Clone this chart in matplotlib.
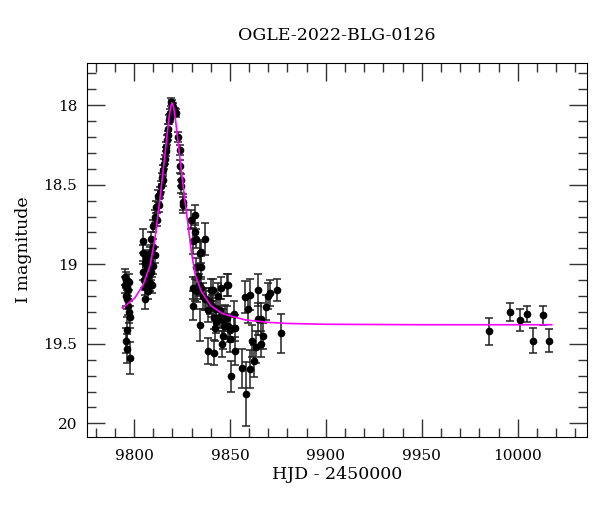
import numpy as np
import matplotlib
matplotlib.use("Agg")
import matplotlib.pyplot as plt

plt.rcParams['font.family'] = ['DejaVu Serif']

title = "OGLE-2022-BLG-0126"

# photometry: HJD - 2450000, I magnitude, error
hjd = [
    # first points of the season
    9795.2, 9795.7, 9796.2, 9796.7, 9795.7, 9796.2, 9796.7, 9797.2, 9797.8,
    9796.2, 9795.7, 9796.2, 9797.8, 9795.2, 9797.2,
    # early rise
    9804.7, 9804.7, 9805.6, 9804.7, 9806.5, 9805.6, 9807.3, 9805.6, 9808.2,
    9809.1, 9809.9, 9808.2, 9810.8, 9809.9, 9806.6, 9806.1, 9807.7, 9809.2,
    9805.1,
    # rise to peak
    9806.5, 9808.2, 9809.1, 9809.9, 9810.8, 9811.7, 9812.5, 9813.4, 9814.3,
    9815.1, 9815.1, 9815.9, 9816.9, 9817.2, 9817.7, 9818.2, 9818.6, 9819.5,
    9820.3, 9821.2, 9822.1, 9811.8, 9812.9, 9814.4, 9815.5, 9816.5, 9817.6,
    9818.6, 9819.6, 9820.6, 9819.6,
    # decline
    9822.9, 9823.8, 9823.8, 9824.7, 9824.7, 9825.5, 9825.6, 9829.9, 9831.6,
    9830.7, 9831.6, 9832.5, 9836.8, 9834.2, 9835.1, 9832.1, 9833.3, 9835.1,
    # tail
    9830.7, 9831.6, 9832.8, 9833.9, 9835.1, 9835.9, 9830.7, 9834.6, 9837.7,
    9838.5, 9839.4, 9840.3, 9840.8, 9841.5, 9842.0, 9843.8, 9842.9, 9844.6,
    9844.6, 9845.5, 9846.4, 9847.2, 9848.4, 9848.4, 9849.0, 9849.8, 9851.9,
    9852.4, 9852.4, 9838.5, 9841.5, 9846.4, 9850.7, 9856.5, 9858.5, 9857.7,
    9860.3, 9859.4, 9860.6, 9861.7, 9862.3, 9863.8, 9864.6, 9864.6, 9866.4,
    9867.2, 9866.4, 9869.0, 9869.8, 9870.7, 9874.7, 9876.4, 9836.8, 9842.5,
    9846.7, 9849.8, 9845.7, 9841.2, 9849.0,
    # next season
    9985.05, 9996.2, 10001.0, 10005.05, 10007.97, 10013.2, 10016.1,
]
mag = [
    19.08, 19.10, 19.14, 19.16, 19.20, 19.22, 19.26, 19.30, 19.33,
    19.41, 19.48, 19.53, 19.59, 19.13, 19.11,
    18.855, 18.93, 18.99, 19.05, 19.10, 19.14, 19.17, 19.22, 19.12,
    19.05, 19.01, 18.99, 18.94, 18.89, 19.03, 18.96, 19.07, 19.13,
    19.10,
    18.97, 18.93, 18.84, 18.76, 18.70, 18.64, 18.57, 18.55, 18.51,
    18.47, 18.41, 18.34, 18.26, 18.22, 18.15, 18.09, 18.05, 17.98,
    18.01, 18.04, 18.05, 18.72, 18.63, 18.46, 18.37, 18.29, 18.19,
    18.08, 17.99, 18.04, 18.02,
    18.20, 18.28, 18.385, 18.47, 18.51, 18.61, 18.63, 18.72, 18.69,
    18.855, 18.80, 18.84, 18.84, 18.93, 18.92, 19.02, 19.075, 19.02,
    19.15, 19.16, 19.17, 19.13, 19.15, 19.20, 19.26, 19.38, 19.22,
    19.29, 19.24, 19.16, 19.26, 19.335, 19.40, 19.20, 19.28, 19.29,
    19.33, 19.15, 19.35, 19.325, 19.13, 19.335, 19.39, 19.47, 19.31,
    19.40, 19.545, 19.545, 19.555, 19.45, 19.705, 19.655, 19.815, 19.205,
    19.19, 19.28, 19.66, 19.48, 19.61, 19.52, 19.16, 19.345, 19.345,
    19.45, 19.50, 19.27, 19.20, 19.18, 19.16, 19.435, 19.22, 19.365,
    19.39, 19.41, 19.50, 19.16, 19.13,
    19.42, 19.30, 19.35, 19.31, 19.48, 19.32, 19.48,
]
err = [
    0.05, 0.05, 0.05, 0.06, 0.06, 0.06, 0.06, 0.07, 0.07,
    0.08, 0.08, 0.09, 0.10, 0.05, 0.05,
    0.075, 0.05, 0.05, 0.05, 0.05, 0.05, 0.05, 0.06, 0.05,
    0.05, 0.05, 0.05, 0.05, 0.05, 0.05, 0.05, 0.05, 0.05,
    0.05,
    0.05, 0.04, 0.04, 0.04, 0.04, 0.04, 0.04, 0.035, 0.035,
    0.035, 0.035, 0.03, 0.03, 0.03, 0.03, 0.03, 0.025, 0.025,
    0.025, 0.025, 0.025, 0.04, 0.04, 0.035, 0.03, 0.03, 0.03,
    0.025, 0.025, 0.025, 0.025,
    0.03, 0.03, 0.04, 0.04, 0.04, 0.05, 0.05, 0.06, 0.06,
    0.08, 0.06, 0.06, 0.10, 0.07, 0.07, 0.06, 0.06, 0.07,
    0.07, 0.07, 0.07, 0.07, 0.07, 0.08, 0.09, 0.10, 0.07,
    0.07, 0.07, 0.07, 0.07, 0.07, 0.08, 0.08, 0.07, 0.07,
    0.07, 0.07, 0.07, 0.07, 0.07, 0.07, 0.08, 0.08, 0.08,
    0.08, 0.09, 0.08, 0.08, 0.08, 0.10, 0.12, 0.20, 0.10,
    0.10, 0.09, 0.12, 0.10, 0.10, 0.10, 0.10, 0.10, 0.10,
    0.08, 0.08, 0.08, 0.08, 0.08, 0.07, 0.12, 0.07, 0.07,
    0.07, 0.08, 0.08, 0.07, 0.07,
    0.085, 0.057, 0.068, 0.05, 0.08, 0.06, 0.073,
]

# model curve
model_hjd = [9793.8, 9797.0, 9800.5, 9804.7, 9808.3, 9810.9, 9813.5, 9816.1,
             9818.2, 9819.1, 9819.8, 9820.6, 9821.5, 9824.0, 9826.0, 9827.4,
             9830.0, 9832.0, 9835.0, 9840.0, 9846.0, 9858.0, 9870.0, 9880.0,
             9900.0, 9950.0, 10017.7]
model_mag = [19.275, 19.245, 19.21, 19.13, 19.01, 18.84, 18.59, 18.31,
             18.08, 18.01, 17.985, 18.01, 18.08, 18.34, 18.55, 18.68,
             18.93, 19.07, 19.17, 19.26, 19.31, 19.35, 19.365, 19.372,
             19.377, 19.38, 19.38]

fig = plt.figure(figsize=(6, 5.12), dpi=100)
ax = fig.add_axes([0.145, 0.147, 0.833, 0.7305])

ax.errorbar(hjd, mag, yerr=err, fmt='o', color='black', ms=4.5,
            ecolor='#222222', elinewidth=1.1, capsize=3, capthick=1.1,
            zorder=2)
ax.plot(model_hjd, model_mag, color='#ff00ff', lw=1.2, zorder=3)

ax.set_xlim(9775.5, 10036)
ax.set_ylim(20.084, 17.733)
ax.set_xticks([9800, 9850, 9900, 9950, 10000])
ax.set_xticks(np.arange(9780, 10040, 10), minor=True)
ax.set_yticks([18, 18.5, 19, 19.5, 20])
ax.set_yticklabels(['18', '18.5', '19', '19.5', '20'])
ax.set_yticks(np.arange(17.8, 20.05, 0.1), minor=True)
ax.tick_params(which='both', direction='in', top=True, right=True,
               labelsize=11, color='#333333')
ax.tick_params(which='major', length=13, width=1)
ax.tick_params(which='minor', length=6.5, width=1)
ax.tick_params(axis='x', pad=9)
ax.tick_params(axis='y', pad=7)

ax.set_title(title, fontsize=12.5, pad=16)
ax.set_xlabel('HJD - 2450000', fontsize=12.5, labelpad=2)
ax.set_ylabel('I magnitude', fontsize=12.5, labelpad=8)

fig.savefig('out.png', dpi=100)
